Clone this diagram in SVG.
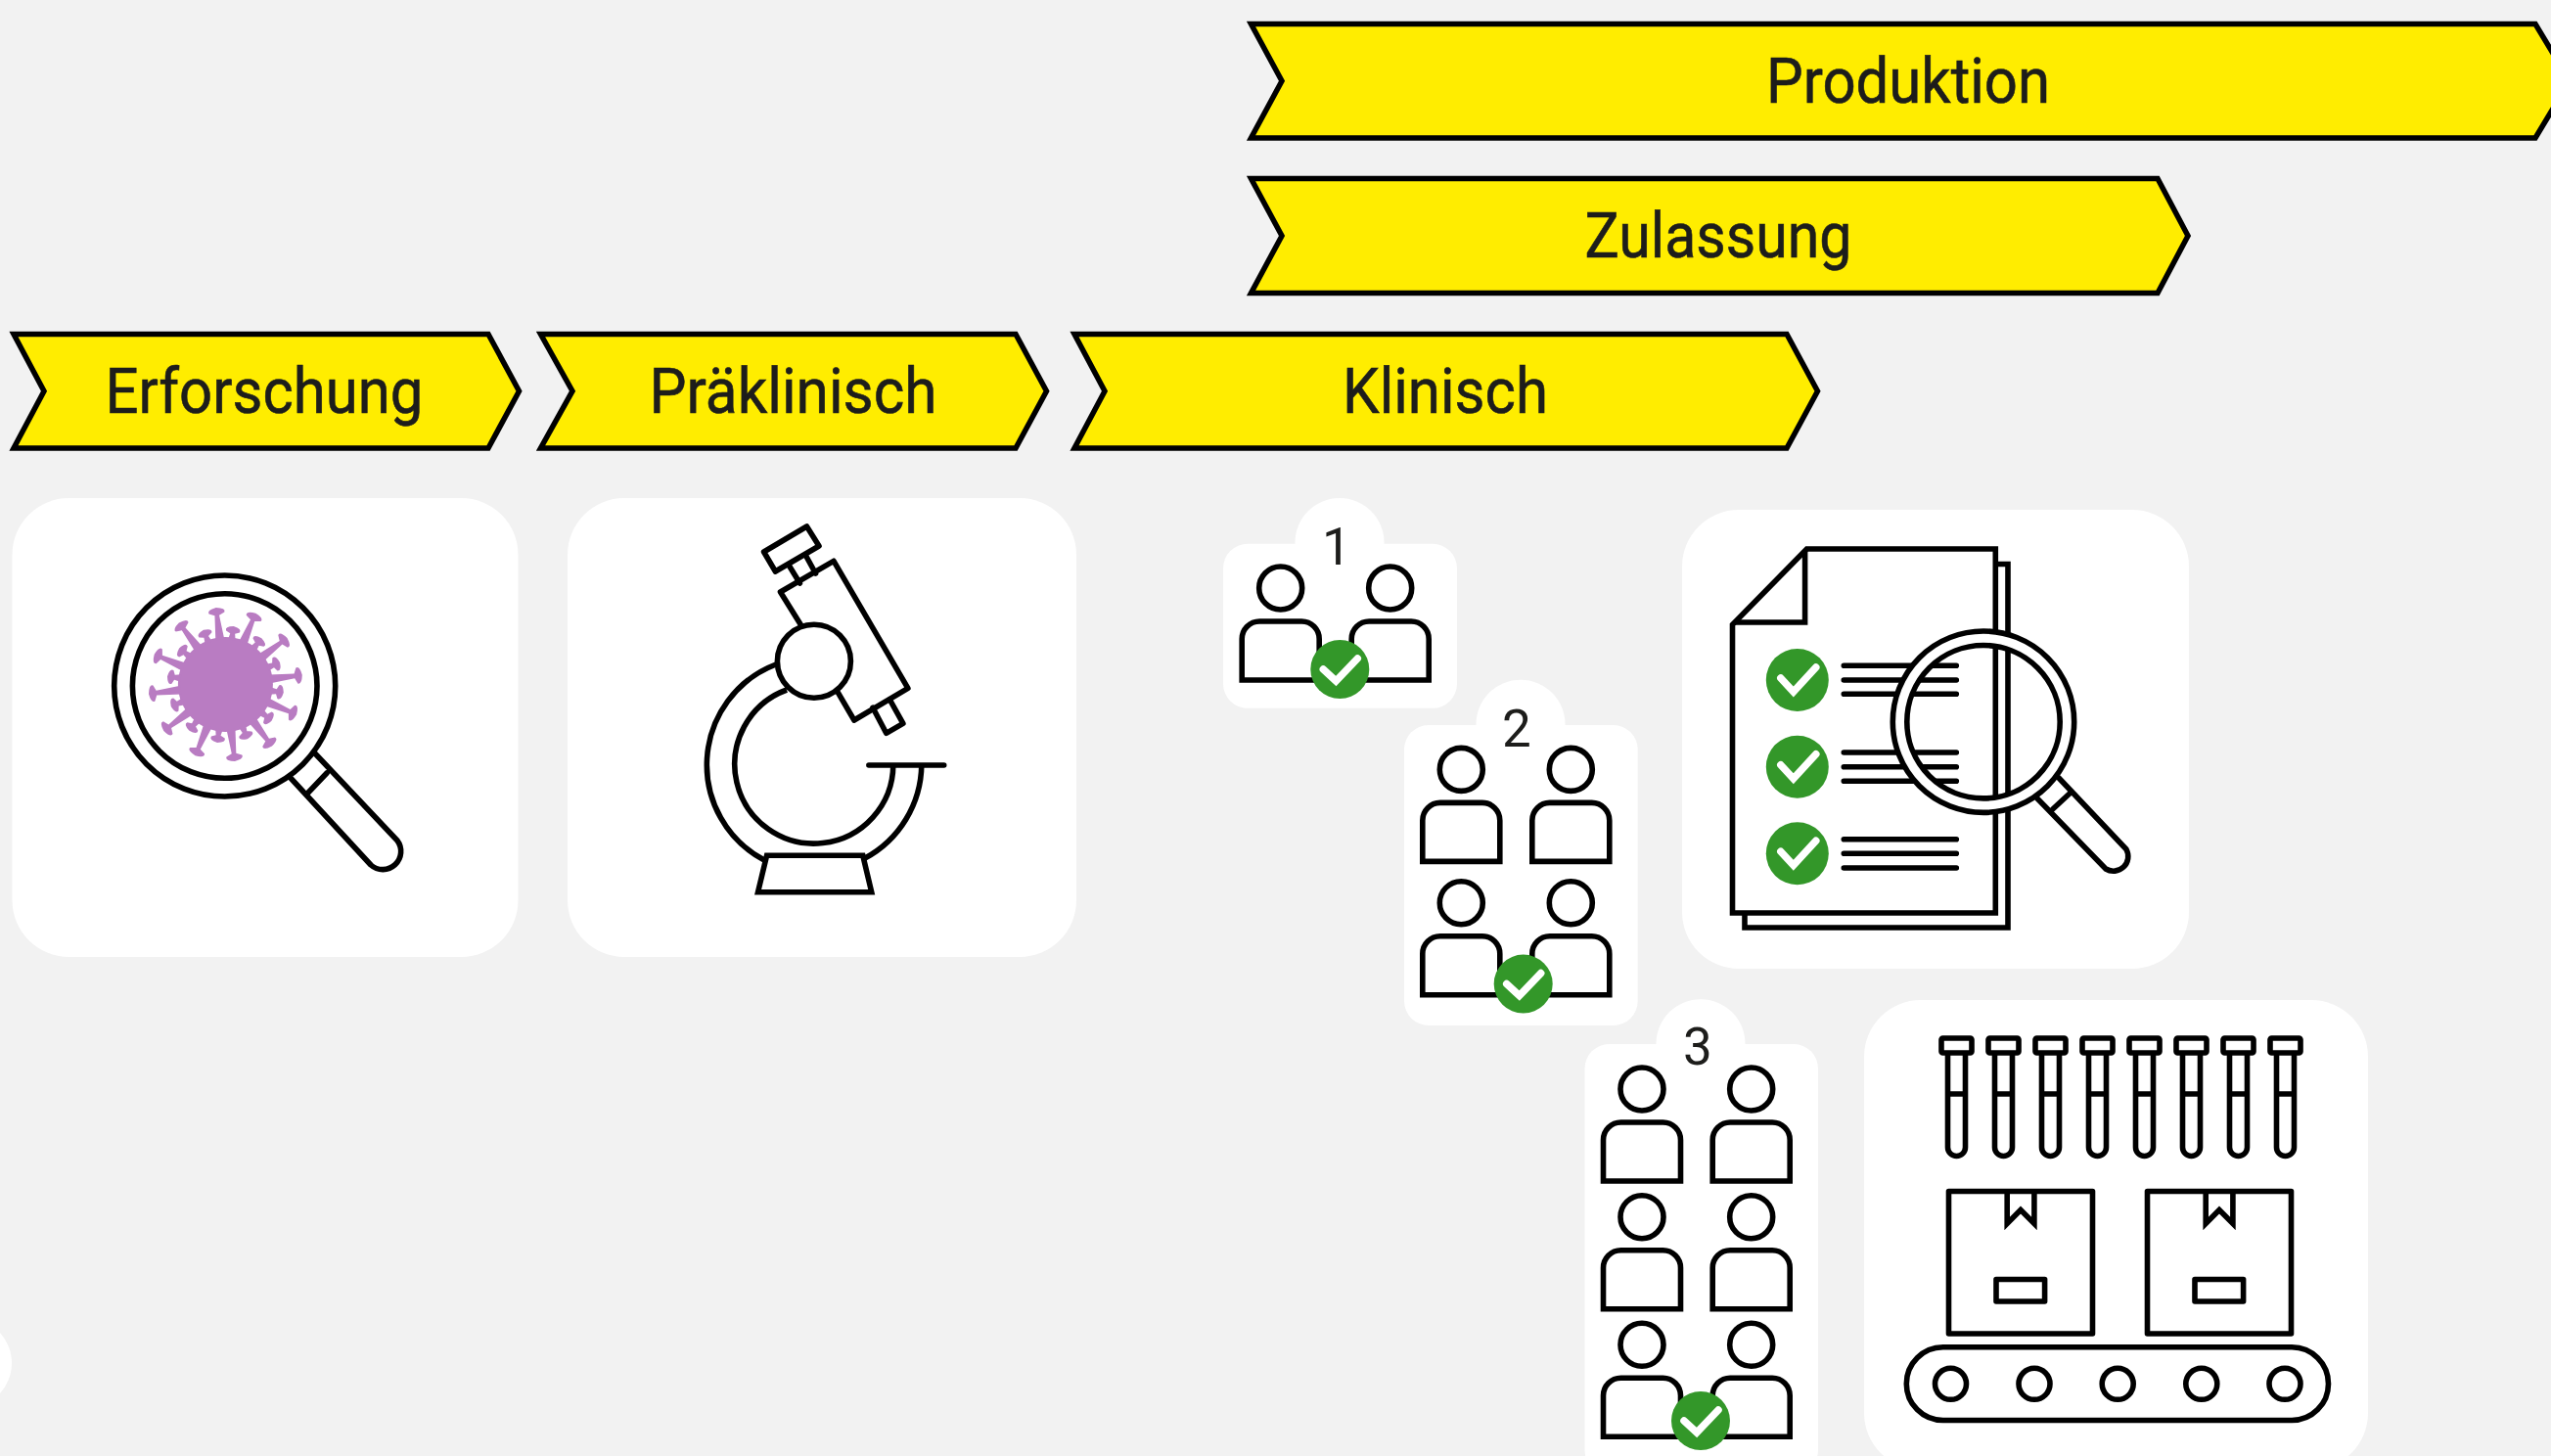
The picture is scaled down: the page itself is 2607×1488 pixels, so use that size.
<svg xmlns="http://www.w3.org/2000/svg" xmlns:xlink="http://www.w3.org/1999/xlink" width="2607" height="1488" viewBox="0 0 2607 1488">
<style>
.bg{fill:#f2f2f2}
.card{fill:#fff}
.chev{fill:#ffed00;stroke:#000;stroke-width:5.5;stroke-linejoin:miter}
.lbl{font-family:Roboto,"Liberation Sans",sans-serif;font-size:65px;fill:#1d1d1b;font-weight:400;stroke:#1d1d1b;stroke-width:0.6}
.num{font-family:Roboto,"Liberation Sans",sans-serif;font-size:53px;fill:#1d1d1b;text-anchor:middle}
.ln{fill:none;stroke:#000;stroke-width:5.6;stroke-linejoin:round;stroke-linecap:round}
.sq{fill:none;stroke:#000;stroke-width:5.6;stroke-linejoin:miter;stroke-linecap:butt}
.ok{fill:#339729}
.tick{fill:none;stroke:#fff;stroke-width:7.5;stroke-linecap:round;stroke-linejoin:miter}
.vir{fill:#b97cc2}
</style>
<defs>
<g id="person"><circle class="ln" r="22"/><path class="sq" d="M-39.5,94V52A18,18 0 0 1 -21.5,34H21.5A18,18 0 0 1 39.5,52V94Z"/></g>
<g id="check"><circle class="ok" r="30"/><path class="tick" d="M-17,0L-4,12L18,-11"/></g>
<g id="check2"><circle class="ok" r="32"/><path class="tick" d="M-17,-2L-4,12L19,-13"/></g>
<path id="sl" class="vir" d="M-4.500,-46L-2.300,-71L-8,-73.500Q-10,-77.500 0,-79Q10,-77.500 8,-73.500L2.300,-71L4.500,-46Z"/>
<path id="ss" class="vir" d="M-3.800,-46L-2.500,-52.500L-7,-54.500Q-9,-58.500 0,-60Q9,-58.500 7,-54.500L2.500,-52.500L3.800,-46Z"/>
<g id="tube"><rect class="ln" x="-15.5" y="1061" width="31" height="15" rx="1.5"/><path class="sq" d="M-9,1076V1172.5A9,9 0 0 0 9,1172.5V1076M-9,1118H9"/></g>
<g id="box"><rect class="ln" x="0" y="0" width="147" height="145.5"/><path class="sq" d="M59.7,0V33L73.5,19L87.4,33V0"/><rect class="ln" x="48.5" y="90" width="49.6" height="22.5"/></g>
</defs>
<rect class="bg" width="2607" height="1488"/>
<g id="connectors"/>

<g id="phase-produktion">
<polygon class="chev" points="1278.500,24.500 2591,24.500 2626,82.700 2591,141 1278.500,141 1310,82.700"/>
<text class="lbl" x="1805" y="105" textLength="290" lengthAdjust="spacingAndGlyphs">Produktion</text>
</g>
<g id="phase-zulassung">
<polygon class="chev" points="1278.500,182.500 2205,182.500 2236,241 2205,299.500 1278.500,299.500 1310,241"/>
<text class="lbl" x="1619.500" y="263.300" textLength="273" lengthAdjust="spacingAndGlyphs">Zulassung</text>
</g>
<g id="phase-erforschung">
<polygon class="chev" points="14,341.500 499,341.500 530.500,399.700 499,458 14,458 45,399.700"/>
<text class="lbl" x="107.500" y="421.700" textLength="325" lengthAdjust="spacingAndGlyphs">Erforschung</text>
</g>
<g id="phase-praeklinisch">
<polygon class="chev" points="552.500,341.500 1038,341.500 1069.500,399.700 1038,458 552.500,458 585,399.700"/>
<text class="lbl" x="663.500" y="421.700" textLength="294" lengthAdjust="spacingAndGlyphs">Präklinisch</text>
</g>
<g id="phase-klinisch">
<polygon class="chev" points="1098,341.500 1826,341.500 1857.500,399.700 1826,458 1098,458 1129,399.700"/>
<text class="lbl" x="1372" y="421.700" textLength="210" lengthAdjust="spacingAndGlyphs">Klinisch</text>
</g>

<g id="card-erforschung">
<rect class="card" x="12.500" y="509" width="517" height="469" rx="58"/>
<g id="virus" transform="translate(230.400,699.500)">
<circle class="vir" r="48.500"/>
<use href="#sl" transform="rotate(-7)"/><use href="#sl" transform="rotate(23)"/><use href="#sl" transform="rotate(53)"/><use href="#sl" transform="rotate(83)"/><use href="#sl" transform="rotate(113)"/><use href="#sl" transform="rotate(143)"/><use href="#sl" transform="rotate(173)"/><use href="#sl" transform="rotate(203)"/><use href="#sl" transform="rotate(233)"/><use href="#sl" transform="rotate(263)"/><use href="#sl" transform="rotate(293)"/><use href="#sl" transform="rotate(323)"/>
<use href="#ss" transform="rotate(8)"/><use href="#ss" transform="rotate(38)"/><use href="#ss" transform="rotate(68)"/><use href="#ss" transform="rotate(98)"/><use href="#ss" transform="rotate(128)"/><use href="#ss" transform="rotate(158)"/><use href="#ss" transform="rotate(188)"/><use href="#ss" transform="rotate(218)"/><use href="#ss" transform="rotate(248)"/><use href="#ss" transform="rotate(278)"/><use href="#ss" transform="rotate(308)"/><use href="#ss" transform="rotate(338)"/>
</g>
<circle class="ln" cx="229.700" cy="701" r="113"/>
<circle class="ln" cx="229.700" cy="701" r="94.300"/>
<path class="ln" d="M296,794L379,884A18.500,18.500 0 0 0 406,859L321,769M315,810L334,790"/>
</g>

<g id="card-praeklinisch">
<rect class="card" x="580" y="509" width="520" height="469" rx="58"/>
<g id="microscope">
<polygon class="ln" points="824.500,538 837,558 792.400,584 780.600,564"/>
<path class="ln" d="M806.700,578.500L817.400,596M823.900,568.500L833.500,586"/>
<path class="ln" d="M818.200,638.300L797.500,605L852,573.300L927.900,703.300L872.900,736L855.700,706.700"/>
<path class="ln" d="M892,723.300L905.700,749.300L922.900,739.300L909.300,715"/>
<circle class="ln" cx="831.900" cy="675.700" r="37.500"/>
<path class="sq" d="M804,705A81,81 0 1 0 912.800,781.700M793,679A110,110 0 0 0 781,879M884,877A110,110 0 0 0 941.800,781.700"/>
<path class="ln" d="M887.900,782H964.700"/>
<polygon class="sq" points="783.600,874.300 881.800,874.300 890.700,911.700 774.600,911.700"/>
</g>
</g>

<g id="card-phase1">
<rect class="card" x="1250" y="555.800" width="239" height="168" rx="25"/>
<circle class="card" cx="1369" cy="554.500" r="45.500"/>
<text class="num" x="1366" y="577">1</text>
<use href="#person" x="1308.700" y="601"/><use href="#person" x="1420.700" y="601"/>
<use href="#check" x="1369.300" y="684"/>
</g>
<g id="card-phase2">
<rect class="card" x="1435" y="741" width="238.700" height="307" rx="25"/>
<circle class="card" cx="1554" cy="740.200" r="45.500"/>
<text class="num" x="1550" y="762.700">2</text>
<use href="#person" x="1493.300" y="786.400"/><use href="#person" x="1605.300" y="786.400"/>
<use href="#person" x="1493.300" y="922.700"/><use href="#person" x="1605.300" y="922.700"/>
<use href="#check" x="1556.700" y="1005.600"/>
</g>
<g id="card-phase3">
<rect class="card" x="1619.500" y="1067" width="238.500" height="440" rx="25"/>
<circle class="card" cx="1738" cy="1066.700" r="45.500"/>
<text class="num" x="1735" y="1088">3</text>
<use href="#person" x="1678" y="1113"/><use href="#person" x="1789.700" y="1113"/>
<use href="#person" x="1678" y="1243.700"/><use href="#person" x="1789.700" y="1243.700"/>
<use href="#person" x="1678" y="1374.300"/><use href="#person" x="1789.700" y="1374.300"/>
<use href="#check" x="1738" y="1452"/>
</g>

<g id="card-zulassung">
<rect class="card" x="1719" y="521" width="518" height="469" rx="58"/>
<g id="document">
<path class="sq" d="M2039,576.500H2052V948H1783V933"/>
<path class="sq" style="fill:#fff" d="M1846.400,561H2039.300V933H1770.500V638.300Z"/>
<path class="sq" d="M1844.600,563V636H1772"/>
<use href="#check2" x="1836.800" y="695"/><use href="#check2" x="1836.800" y="783.700"/><use href="#check2" x="1836.800" y="872.300"/>
<path class="ln" d="M1884.300,680.300H1999.300M1884.300,695H1999.300M1884.300,709.300H1999.300M1884.300,769H1999.300M1884.300,783.700H1999.300M1884.300,798.300H1999.300M1884.300,857.700H1999.300M1884.300,872.300H1999.300M1884.300,887H1999.300"/>
</g>
<circle cx="2027" cy="737.700" r="85.500" fill="none" stroke="#fff" stroke-width="14"/>
<circle class="ln" cx="2027" cy="737.700" r="92.700"/>
<circle class="ln" cx="2027" cy="737.700" r="78.200"/>
<path class="ln" d="M2082,816L2152,888A15,15 0 0 0 2173,868L2104,795M2098,826.700L2115,811"/>
</g>

<g id="card-produktion">
<rect class="card" x="1905" y="1022" width="515" height="480" rx="58"/>
<use href="#tube" x="1999.500"/><use href="#tube" x="2047.500"/><use href="#tube" x="2095.500"/><use href="#tube" x="2143.500"/><use href="#tube" x="2191.500"/><use href="#tube" x="2239.500"/><use href="#tube" x="2287.500"/><use href="#tube" x="2335.500"/>
<use href="#box" x="1991.500" y="1217.500"/><use href="#box" x="2194.500" y="1217.500"/>
<rect class="ln" x="1948.300" y="1376.800" width="431.200" height="74.700" rx="37.400"/>
<g id="wheels"><circle class="ln" cx="1993.500" cy="1414.300" r="16"/><circle class="ln" cx="2079" cy="1414.300" r="16"/><circle class="ln" cx="2164.200" cy="1414.300" r="16"/><circle class="ln" cx="2249.800" cy="1414.300" r="16"/><circle class="ln" cx="2335" cy="1414.300" r="16"/></g>
</g>

<circle id="edge-card" class="card" cx="-34" cy="1393" r="46"/>
</svg>
